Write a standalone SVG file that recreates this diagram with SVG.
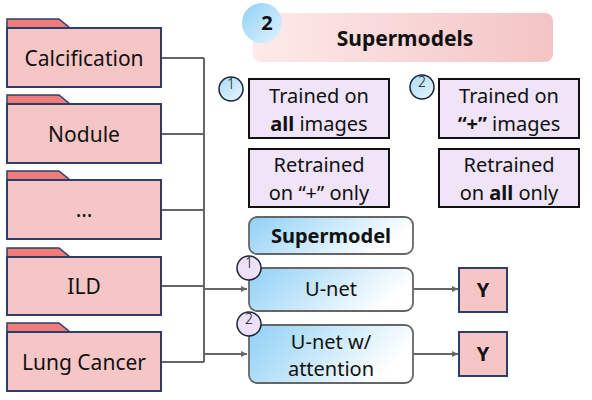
<svg xmlns="http://www.w3.org/2000/svg" width="592" height="400" viewBox="0 0 592 400">
<defs>
<style>
text{font-family:"Noto Sans","Liberation Sans",sans-serif;fill:#111;text-anchor:middle}
.fb{fill:#f6c6c6;stroke:#2e3f66;stroke-width:2}
.ft{fill:#ef7b7b;stroke:#2e3f66;stroke-width:1.5}
.lbl{font-size:21px}
.pb{fill:#efe4f8;stroke:#111;stroke-width:2}
.pt{font-size:20px}
.con{fill:none;stroke:#666;stroke-width:2}
.sc{stroke:#1a2238;stroke-width:1.5}
.num{font-size:14px;font-weight:300}
.mb{fill:url(#gBlue);stroke:#666;stroke-width:1.8}
.yb{fill:#f6c6c6;stroke:#2e3f66;stroke-width:2}
</style>
<linearGradient id="gBlue" x1="0" y1="0" x2="1" y2="0.3">
<stop offset="0" stop-color="#8fd0f5"/><stop offset="1" stop-color="#ffffff"/>
</linearGradient>
<linearGradient id="gPink" x1="0" y1="0" x2="1" y2="0">
<stop offset="0" stop-color="#fdeaea"/><stop offset="1" stop-color="#f4c4c4"/>
</linearGradient>
<linearGradient id="gCirc" x1="0" y1="0" x2="1" y2="1">
<stop offset="0" stop-color="#8fd0f5"/><stop offset="1" stop-color="#e2f3fd"/>
</linearGradient>
<linearGradient id="gSm" x1="0" y1="0" x2="1" y2="1">
<stop offset="0" stop-color="#a8dcf8"/><stop offset="1" stop-color="#eaf6fe"/>
</linearGradient>
<marker id="arr" viewBox="0 0 10 10" refX="10" refY="5" markerWidth="6" markerHeight="6" markerUnits="userSpaceOnUse" orient="auto">
<path d="M0,0 L10,5 L0,10 z" fill="#666"/>
</marker>
<clipPath id="c1"><circle cx="231" cy="89" r="12"/></clipPath>
<clipPath id="c2"><circle cx="422" cy="87" r="12"/></clipPath>
<clipPath id="c3"><circle cx="249" cy="268" r="12"/></clipPath>
<clipPath id="c4"><circle cx="249" cy="324" r="12"/></clipPath>
</defs>
<rect width="592" height="400" fill="#fff"/>

<g id="connectors">
<path class="con" d="M161,58 H204 M161,134 H204 M161,210 H204 M161,286 H204 M161,362 H204 M204,58 V362"/>
<path class="con" d="M204,289 H247" marker-end="url(#arr)"/>
<path class="con" d="M204,354 H247" marker-end="url(#arr)"/>
<path class="con" d="M413,289 H458" marker-end="url(#arr)"/>
<path class="con" d="M413,354 H458" marker-end="url(#arr)"/>
</g>

<g id="folder-calcification">
<path class="ft" d="M7,28 V19 H59 L70,28 z"/>
<rect class="fb" x="7" y="28" width="154" height="59"/>
<text class="lbl" x="84" y="66">Calcification</text>
</g>
<g id="folder-nodule">
<path class="ft" d="M7,104 V95 H59 L70,104 z"/>
<rect class="fb" x="7" y="104" width="154" height="59"/>
<text class="lbl" x="84" y="142">Nodule</text>
</g>
<g id="folder-more">
<path class="ft" d="M7,180 V171 H59 L70,180 z"/>
<rect class="fb" x="7" y="180" width="154" height="59"/>
<text class="lbl" x="84" y="217">…</text>
</g>
<g id="folder-ild">
<path class="ft" d="M7,257 V248 H59 L70,257 z"/>
<rect class="fb" x="7" y="257" width="154" height="58"/>
<text class="lbl" x="84" y="294">ILD</text>
</g>
<g id="folder-lungcancer">
<path class="ft" d="M7,332 V323 H59 L70,332 z"/>
<rect class="fb" x="7" y="332" width="154" height="59"/>
<text class="lbl" x="84" y="370">Lung Cancer</text>
</g>

<g id="header">
<rect x="253" y="13" width="300" height="49" rx="8" fill="url(#gPink)"/>
<circle cx="262" cy="23" r="20" fill="url(#gCirc)"/>
<text x="267" y="30" font-size="20" font-weight="bold">2</text>
<text x="405" y="46" font-size="21" font-weight="bold">Supermodels</text>
</g>

<g id="opt1">
<circle cx="231" cy="89" r="12" fill="url(#gSm)" class="sc"/>
<text class="num" x="231" y="89" clip-path="url(#c1)">1</text>
<rect class="pb" x="249" y="79" width="140" height="59"/>
<text class="pt" x="319" y="103">Trained on</text>
<text class="pt" x="319" y="131"><tspan font-weight="bold">all</tspan> images</text>
<rect class="pb" x="249" y="149" width="140" height="58"/>
<text class="pt" x="319" y="172">Retrained</text>
<text class="pt" x="319" y="200">on “+” only</text>
</g>

<g id="opt2">
<circle cx="422" cy="87" r="12" fill="url(#gSm)" class="sc"/>
<text class="num" x="422" y="87" clip-path="url(#c2)">2</text>
<rect class="pb" x="439" y="79" width="140" height="59"/>
<text class="pt" x="509" y="103">Trained on</text>
<text class="pt" x="509" y="131"><tspan font-weight="bold">“+”</tspan> images</text>
<rect class="pb" x="439" y="149" width="140" height="58"/>
<text class="pt" x="509" y="172">Retrained</text>
<text class="pt" x="509" y="200">on <tspan font-weight="bold">all</tspan> only</text>
</g>

<g id="supermodel">
<rect class="mb" x="249" y="217" width="164" height="37" rx="8"/>
<text x="331" y="243" font-size="20" font-weight="bold">Supermodel</text>
</g>

<g id="unet">
<rect class="mb" x="249" y="268" width="164" height="43" rx="8"/>
<text class="pt" x="331" y="296">U-net</text>
<circle cx="249" cy="268" r="12" fill="#ece0fa" class="sc"/>
<text class="num" x="249" y="268" clip-path="url(#c3)">1</text>
</g>

<g id="unet-attention">
<rect class="mb" x="249" y="325" width="164" height="58" rx="8"/>
<text class="pt" x="331" y="349">U-net w/</text>
<text class="pt" x="331" y="376">attention</text>
<circle cx="249" cy="324" r="12" fill="#ece0fa" class="sc"/>
<text class="num" x="249" y="324" clip-path="url(#c4)">2</text>
</g>

<g id="y1">
<rect class="yb" x="459" y="268" width="48" height="44"/>
<text x="483" y="297" font-size="20" font-weight="bold">Y</text>
</g>
<g id="y2">
<rect class="yb" x="459" y="332" width="48" height="44"/>
<text x="483" y="361" font-size="20" font-weight="bold">Y</text>
</g>
</svg>
